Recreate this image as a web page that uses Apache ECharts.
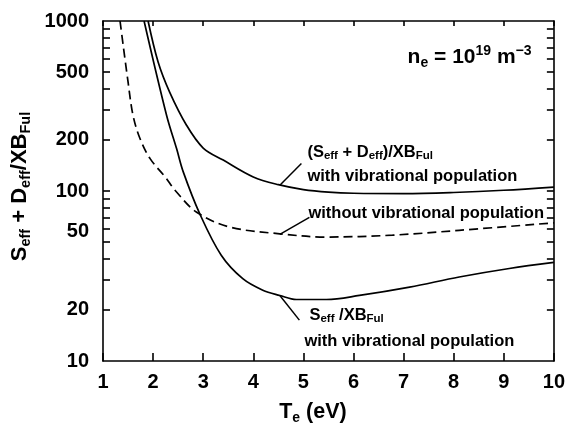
<!DOCTYPE html>
<html><head><meta charset="utf-8">
<script src="https://cdn.jsdelivr.net/npm/echarts@6/dist/echarts.min.js"></script>
<style>html,body{margin:0;padding:0;background:#fff}#c{width:568px;height:430px}</style>
</head><body><div id="c"></div>
<script>
// ---- data ----
const teTotalVib = [1.90, 2.10, 2.33, 2.67, 3.00, 3.40, 4.00, 4.50, 5.00, 5.50, 6.00, 7.00, 8.00, 9.00, 10.0];
const valTotalVib = [1000, 574, 382, 243, 179, 152, 121, 109, 102, 98.5, 97, 96.5, 98, 101, 105.5];

const teNoVib = [1.34, 1.50, 1.60, 1.74, 1.94, 2.24, 2.45, 2.87, 3.53, 4.53, 5.46, 6.78, 8.11, 10.0];
const valNoVib = [1000, 438, 278, 203, 155, 121, 100, 75, 61.4, 56, 53.6, 55, 58.7, 65];

const teSeffVib = [1.82, 2.27, 2.47, 2.60, 2.93, 3.36, 3.79, 4.19, 4.53, 4.86, 5.46, 6.12, 7.12, 8.11, 9.11, 10.0];
const valSeffVib = [1000, 278, 177, 130, 73.6, 41.9, 30.5, 26.1, 24.3, 23.0, 23.0, 24.3, 27.2, 31.2, 35.0, 38.0];

const yLabelValues = [10, 20, 50, 100, 200, 500, 1000];
const yTickValues = [20, 30, 40, 50, 60, 70, 80, 90, 100, 200, 300, 400, 500, 600, 700, 800, 900];

// annotation anchors (data coordinates)
const pointerTotal = [[4.53, 108], [4.96, 145]];
const pointerNoVib = [[4.53, 55.6], [5.12, 69.9]];
const pointerSeff = [[4.53, 24.3], [4.92, 17.4]];
const textTotalL1 = [5.08, 169];
const textTotalL2 = [5.08, 122];
const textNoVib = [5.10, 74];
const textSeffL1 = [5.12, 18.6];
const textSeffL2 = [5.02, 13.1];
const textDensity = [7.08, 611];

const zip = (a, b) => a.map((x, i) => [x, b[i]]);
const FF = '"Liberation Sans", Arial, sans-serif';

const chart = echarts.init(document.getElementById('c'));

const aLine = () => ({show: true, lineStyle: {color: '#000', width: 1.6}});
const aTick = (len, custom) => {
  const t = {show: true, inside: true, length: len, lineStyle: {color: '#000', width: 1.6}};
  if (custom) t.customValues = custom;
  return t;
};
const lineSeries = (name, data, type) => ({
  name, type: 'line', data, symbol: 'none', smooth: 0.35,
  lineStyle: {color: '#000', width: 1.7, type: type}
});

const option = {
  animation: false,
  grid: {left: 103, right: 13, top: 21, bottom: 69},
  xAxis: [{
    type: 'value', min: 1, max: 10, interval: 1,
    axisLine: aLine(),
    axisTick: aTick(8),
    axisLabel: {color: '#000', fontSize: 20, fontWeight: 'bold', fontFamily: FF, margin: 11},
    splitLine: {show: false},
    name: '{m|T}{s|e}{m| (eV)}',
    nameLocation: 'middle', nameGap: 38,
    nameTextStyle: {
      padding: [0, 31, 0, 0],
      rich: {
        m: {fontSize: 21.5, fontWeight: 'bold', fontFamily: FF, color: '#000', lineHeight: 26},
        s: {fontSize: 14, fontWeight: 'bold', fontFamily: FF, color: '#000', lineHeight: 6, verticalAlign: 'bottom'}
      }
    }
  }, {
    type: 'value', min: 1, max: 10, interval: 1, position: 'top',
    axisLine: aLine(),
    axisTick: aTick(5),
    axisLabel: {show: false}, splitLine: {show: false}
  }],
  yAxis: [{
    type: 'log', min: 10, max: 1000,
    axisLine: aLine(),
    axisTick: aTick(7, yTickValues),
    axisLabel: {
      color: '#000', fontSize: 20, fontWeight: 'bold', fontFamily: FF, margin: 14,
      customValues: yLabelValues,
      formatter: v => (Math.round(v) === 50 ? '{u|50}' : String(Math.round(v))),
      rich: {u: {fontSize: 20, fontWeight: 'bold', fontFamily: FF, color: '#000', padding: [0, 0, 22, 0]}}
    },
    splitLine: {show: false},
    name: '{m|S}{s|eff}{m| + D}{s|eff}{m|/XB}{s|Ful}',
    nameLocation: 'middle', nameRotate: 90, nameGap: 57,
    nameTextStyle: {
      padding: [0, 0, 0, 9],
      rich: {
        m: {fontSize: 22, fontWeight: 'bold', fontFamily: FF, color: '#000', lineHeight: 28},
        s: {fontSize: 14.5, fontWeight: 'bold', fontFamily: FF, color: '#000', lineHeight: 6, verticalAlign: 'bottom'}
      }
    }
  }, {
    type: 'log', min: 10, max: 1000, position: 'right',
    axisLine: aLine(),
    axisTick: aTick(7, yTickValues),
    axisLabel: {show: false}, splitLine: {show: false}
  }],
  series: [
    lineSeries('(Seff + Deff)/XBFul with vibrational population', zip(teTotalVib, valTotalVib), 'solid'),
    lineSeries('without vibrational population', zip(teNoVib, valNoVib), [9, 5]),
    lineSeries('Seff/XBFul with vibrational population', zip(teSeffVib, valSeffVib), 'solid')
  ]
};
chart.setOption(option);

const px = p => chart.convertToPixel({xAxisIndex: 0, yAxisIndex: 0}, p);
const annRich = {
  m: {fontSize: 16.5, fontWeight: 'bold', fontFamily: FF, fill: '#000', lineHeight: 20},
  s: {fontSize: 11.5, fontWeight: 'bold', fontFamily: FF, fill: '#000', lineHeight: 8, verticalAlign: 'bottom'}
};
const denRich = {
  m: {fontSize: 21, fontWeight: 'bold', fontFamily: FF, fill: '#000', lineHeight: 26},
  s: {fontSize: 14, fontWeight: 'bold', fontFamily: FF, fill: '#000', lineHeight: 2, verticalAlign: 'bottom'},
  p: {fontSize: 14, fontWeight: 'bold', fontFamily: FF, fill: '#000', lineHeight: 6, verticalAlign: 'top'}
};
const txt = (pos, text, rich) => {
  const p = px(pos);
  return {type: 'text', x: p[0], y: p[1], z: 10,
    style: {text, rich, fill: '#000', font: 'bold 16.5px ' + FF, align: 'left', verticalAlign: 'middle'}};
};
const seg = (pts) => {
  const a = px(pts[0]), b = px(pts[1]);
  return {type: 'line', z: 10, shape: {x1: a[0], y1: a[1], x2: b[0], y2: b[1]}, style: {stroke: '#000', lineWidth: 1.5}};
};

chart.setOption({
  graphic: [
    seg(pointerTotal), seg(pointerNoVib), seg(pointerSeff),
    txt(textTotalL1, '{m|(S}{s|eff}{m| + D}{s|eff}{m|)/XB}{s|Ful}', annRich),
    txt(textTotalL2, '{m|with vibrational population}', annRich),
    txt(textNoVib, '{m|without vibrational population}', annRich),
    txt(textSeffL1, '{m|S}{s|eff}{m| /XB}{s|Ful}', annRich),
    txt(textSeffL2, '{m|with vibrational population}', annRich),
    txt(textDensity, '{m|n}{s|e}{m| = 10}{p|19}{m| m}{p|\u22123}', denRich)
  ]
});
</script>
</body></html>
